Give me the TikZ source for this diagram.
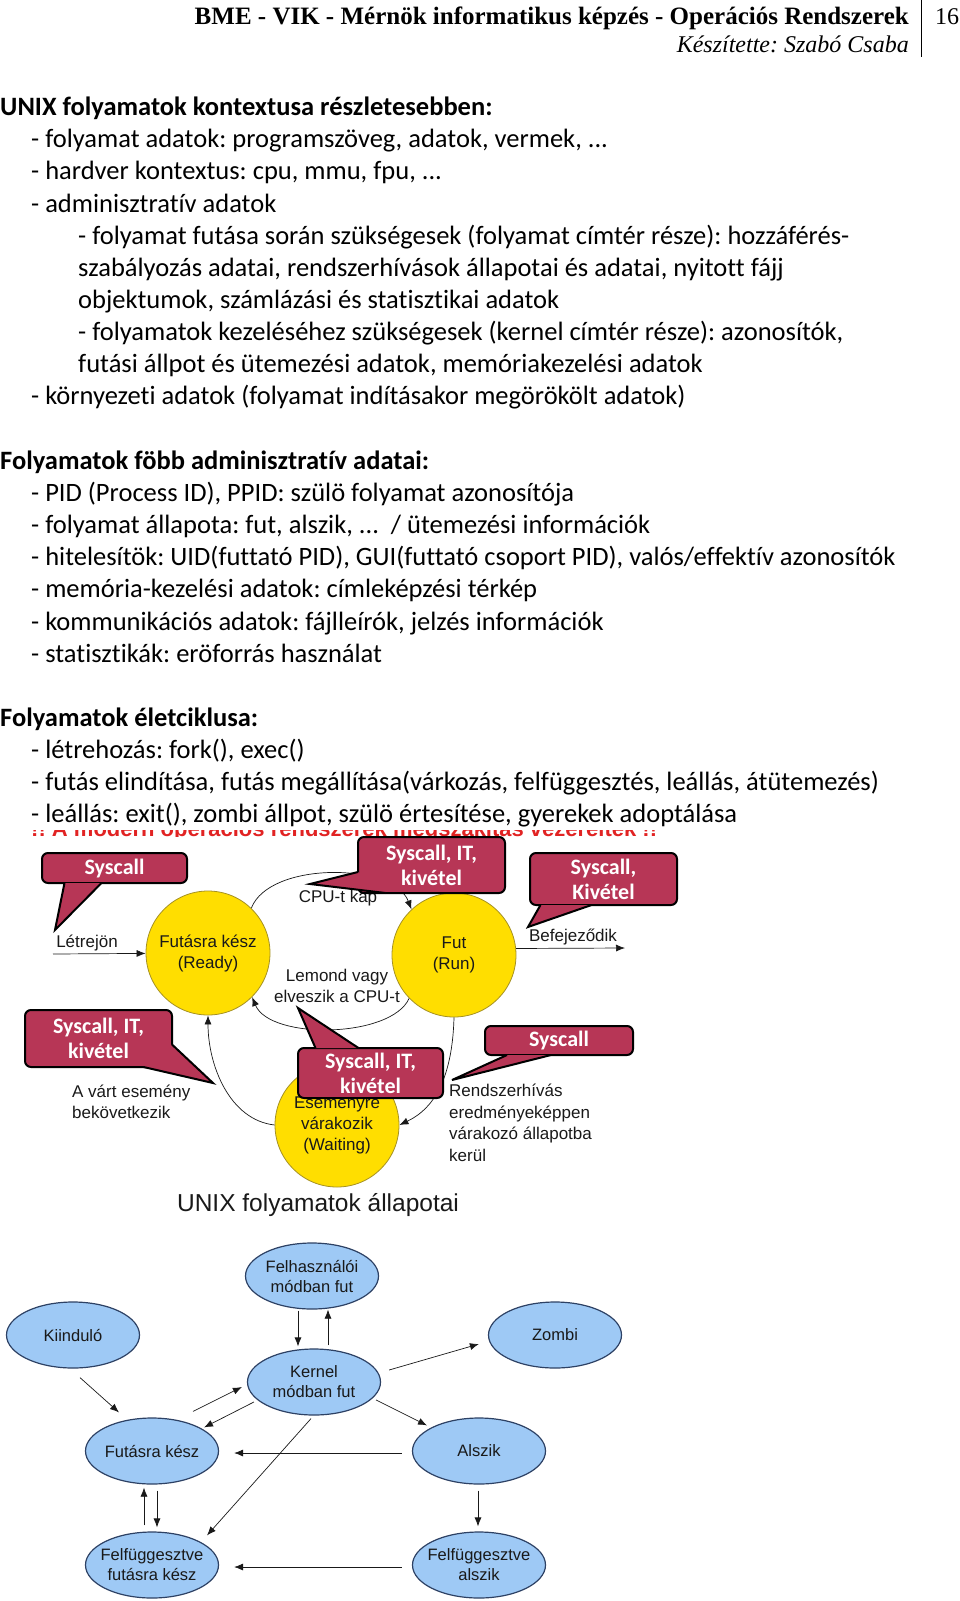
\documentclass[tikz,border=0pt]{standalone}
\usepackage{fontspec}
\usepackage{tikz}
\usetikzlibrary{arrows.meta,shapes.geometric,positioning}
\setmainfont[Ligatures={NoCommon}]{Carlito}
\newfontfamily\uxsans{Liberation Sans}
\newfontfamily\uxserif{Liberation Serif}
\frenchspacing
\definecolor{uxyellow}{RGB}{255,222,0}
\definecolor{uxolive}{RGB}{165,145,35}
\definecolor{uxmaroon}{RGB}{183,54,86}
\definecolor{uxblue}{RGB}{158,201,245}
\definecolor{uxnavy}{RGB}{45,65,100}
\definecolor{uxred}{RGB}{225,35,35}
\definecolor{uxink}{RGB}{25,25,25}
\tikzset{
  uxtxt/.style={anchor=base west, inner sep=0pt, font=\fontsize{26.5}{32}\selectfont},
  uxhd/.style={uxtxt, font=\fontsize{26.5}{32}\selectfont\bfseries},
  uxpage/.style={inner sep=0pt, font=\uxserif\fontsize{24}{28}\selectfont},
  uxcirc/.style={circle, draw=uxolive, line width=0.8pt, fill=uxyellow, minimum size=124pt, inner sep=0pt, align=center, text=uxink, font=\uxsans\fontsize{17}{21}\selectfont},
  uxlbl/.style={inner sep=0pt, align=center, text=uxink, font=\uxsans\fontsize{17}{21.5}\selectfont},
  uxbub/.style={draw=black, line width=2pt, fill=uxmaroon, rounded corners=6pt, text=white, align=center, inner sep=0pt, font=\fontsize{22}{25}\selectfont\bfseries},
  uxtail/.style={draw=black, line width=2pt, fill=uxmaroon, line join=miter},
  uxell/.style={ellipse, draw=uxnavy, line width=1.2pt, fill=uxblue, minimum width=133pt, minimum height=66pt, inner xsep=-8pt, inner ysep=0pt, align=center, text=uxink, font=\uxsans\fontsize{16.5}{20}\selectfont},
  uxarr/.style={-{Latex[length=9pt, width=7pt]}, line width=0.7pt, draw=uxink}
}
\begin{document}
\begin{tikzpicture}[x=1pt, y=-1pt]
  \useasboundingbox (0,0) rectangle (960,1601);
  \node[uxpage, anchor=base east, font=\uxserif\fontsize{25}{28}\selectfont\bfseries] (title) at (909,24) {BME - VIK - Mérnök informatikus képzés - Operációs Rendszerek};
  \node[uxpage, anchor=base east, font=\uxserif\fontsize{24}{28}\selectfont\itshape] (author) at (909,52) {Készítette: Szabó Csaba};
  \node[uxpage, anchor=base west] (pageno) at (935,24) {16};
  \draw[line width=0.8pt] (921,0) -- (921,57);

  \node[uxhd] (ctxhd) at (0,115) {UNIX folyamatok kontextusa részletesebben:};
  \node[uxtxt] (ctx1) at (31,147) {- folyamat adatok: programszöveg, adatok, vermek, ...};
  \node[uxtxt] (ctx2) at (31,179) {- hardver kontextus: cpu, mmu, fpu, ...};
  \node[uxtxt] (ctx3) at (31,212) {- adminisztratív adatok};
  \node[uxtxt] (ctx4) at (78,244) {- folyamat futása során szükségesek (folyamat címtér része): hozzáférés-};
  \node[uxtxt] (ctx5) at (78,276) {szabályozás adatai, rendszerhívások állapotai és adatai, nyitott fájj};
  \node[uxtxt] (ctx6) at (78,308) {objektumok, számlázási és statisztikai adatok};
  \node[uxtxt] (ctx7) at (78,340) {- folyamatok kezeléséhez szükségesek (kernel címtér része): azonosítók,};
  \node[uxtxt] (ctx8) at (78,372) {futási állpot és ütemezési adatok, memóriakezelési adatok};
  \node[uxtxt] (ctx9) at (31,404) {- környezeti adatok (folyamat indításakor megörökölt adatok)};

  \node[uxhd] (admhd) at (0,469) {Folyamatok föbb adminisztratív adatai:};
  \node[uxtxt] (adm1) at (31,501) {- PID (Process ID), PPID: szülö folyamat azonosítója};
  \node[uxtxt] (adm2) at (31,533) {- folyamat állapota: fut, alszik, ...\ \ / ütemezési információk};
  \node[uxtxt] (adm3) at (31,565) {- hitelesítök: UID(futtató PID), GUI(futtató csoport PID), valós/effektív azonosítók};
  \node[uxtxt] (adm4) at (31,597) {- memória-kezelési adatok: címleképzési térkép};
  \node[uxtxt] (adm5) at (31,630) {- kommunikációs adatok: fájlleírók, jelzés információk};
  \node[uxtxt] (adm6) at (31,662) {- statisztikák: eröforrás használat};

  \node[uxhd] (lifehd) at (0,726) {Folyamatok életciklusa:};
  \node[uxtxt] (life1) at (31,758) {- létrehozás: fork(), exec()};
  \node[uxtxt] (life2) at (31,790) {- futás elindítása, futás megállítása(várkozás, felfüggesztés, leállás, átütemezés)};
  \node[uxtxt] (life3) at (31,822) {- leállás: exit(), zombi állpot, szülö értesítése, gyerekek adoptálása};

  \begin{scope}
    \clip (0,830) rectangle (700,836);
    \node[uxtxt, text=uxred, font=\uxsans\fontsize{22}{25}\selectfont\bfseries] (slidetitle) at (31,836) {!! A modern operációs rendszerek megszakítás vezéreltek !!};
  \end{scope}

  \node[uxcirc] (ready) at (208,953) {Futásra kész\\(Ready)};
  \node[uxcirc] (run) at (454,955) {Fut\\(Run)};
  \node[uxcirc] (wait) at (337,1125) {Eseményre\\várakozik\\(Waiting)};
  \node[uxlbl] (born) at (87,943) {Létrejön};
  \coordinate (bornfrom) at (53,954);
  \node[uxlbl] (ends) at (573,937) {Befejeződik};
  \coordinate (endsto) at (625,948);
  \node[uxlbl] (getcpu) at (338,898) {CPU-t kap};
  \node[uxlbl] (losecpu) at (337,986) {Lemond vagy\\elveszik a CPU-t};
  \node[uxlbl, anchor=west, align=left] (evtdone) at (72,1102) {A várt esemény\\bekövetkezik};
  \node[uxlbl, anchor=west, align=left] (syswait) at (449,1123) {Rendszerhívás\\eredményeképpen\\várakozó állapotba\\kerül};
  \draw[uxarr] (bornfrom) -- (ready);
  \draw[uxarr] (run.6) -- (endsto);
  \draw[uxarr] (ready.46) .. controls +(18,-47) and +(-18,-47) .. (run.133);
  \draw[uxarr] (run.224) .. controls +(-18,40) and +(18,43) .. (ready.315);
  \draw[uxarr] (wait.west) .. controls +(-45,-5) and +(0,50) .. (ready.south);
  \draw[uxarr] (run.south) .. controls +(-2,75) and +(25,-12) .. (wait.east);

  \node[uxbub, minimum width=145pt, minimum height=30pt] (bubA) at (114.5,868) {Syscall};
  \filldraw[uxtail] ([shift={(-50,-1)}]bubA.south) -- (55,930) -- ([shift={(-13,-1)}]bubA.south);
  \node[uxbub, minimum width=147pt, minimum height=56pt] (bubB) at (431.5,865) {Syscall, IT,\\kivétel};
  \filldraw[uxtail] ([shift={(1,7)}]bubB.west) -- (310,884) -- ([shift={(-46,-1)}]bubB.south);
  \node[uxbub, minimum width=147pt, minimum height=52pt] (bubC) at (603.5,879) {Syscall,\\Kivétel};
  \filldraw[uxtail] ([shift={(-63,-1)}]bubC.south) -- (528,927) -- ([shift={(-12,-1)}]bubC.south);
  \node[uxbub, minimum width=147pt, minimum height=57pt] (bubD) at (98.5,1038.5) {Syscall, IT,\\kivétel};
  \filldraw[uxtail] ([shift={(-1,6)}]bubD.east) -- (213,1083) -- ([shift={(45,-1)}]bubD.south);
  \node[uxbub, minimum width=145pt, minimum height=50pt] (bubE) at (370.5,1073) {Syscall, IT,\\kivétel};
  \filldraw[uxtail] ([shift={(-55,1)}]bubE.north) -- (298,1008) -- ([shift={(-12,1)}]bubE.north);
  \node[uxbub, minimum width=148pt, minimum height=29pt] (bubF) at (559,1040.5) {Syscall};
  \filldraw[uxtail] ([shift={(-52,-1)}]bubF.south) -- (452,1080) -- ([shift={(-8,-1)}]bubF.south);

  \node[uxlbl, font=\uxsans\fontsize{24.5}{29}\selectfont] (caption) at (318,1205) {UNIX folyamatok állapotai};

  \node[uxell] (user) at (312,1276) {Felhasználói\\módban fut};
  \node[uxell] (kiind) at (73,1335) {Kiinduló};
  \node[uxell] (zombi) at (555,1335) {Zombi};
  \node[uxell] (kernel) at (314,1382) {Kernel\\módban fut};
  \node[uxell] (kesz) at (152,1451) {Futásra kész};
  \node[uxell] (alszik) at (479,1451) {Alszik};
  \node[uxell] (fkesz) at (152,1565) {Felfüggesztve\\futásra kész};
  \node[uxell] (falszik) at (479,1565) {Felfüggesztve\\alszik};
  \draw[uxarr] ([shift={(-14,1)}]user.south) -- ([shift={(-16,-2)}]kernel.north);
  \draw[uxarr] ([shift={(14,-3)}]kernel.north) -- ([shift={(16,0)}]user.south);
  \draw[uxarr] ([shift={(7,9)}]kiind.south) -- ([shift={(-33,-5)}]kesz.north);
  \draw[uxarr] ([shift={(41,-6)}]kesz.north) -- ([shift={(-5,5)}]kernel.west);
  \draw[uxarr] ([shift={(7,20)}]kernel.west) -- ([shift={(52,10)}]kesz.north);
  \draw[uxarr] ([shift={(8,-12)}]kernel.east) -- ([shift={(-9,9)}]zombi.west);
  \draw[uxarr] ([shift={(-5,18)}]kernel.east) -- ([shift={(-52,8)}]alszik.north);
  \draw[uxarr] ([shift={(-10,2)}]alszik.west) -- ([shift={(15,2)}]kesz.east);
  \draw[uxarr] ([shift={(-8,-6)}]fkesz.north) -- ([shift={(-8,3)}]kesz.south);
  \draw[uxarr] ([shift={(5,6)}]kesz.south) -- ([shift={(5,-4)}]fkesz.north);
  \draw[uxarr] ([shift={(-3,3)}]kernel.south) -- ([shift={(55,4)}]fkesz.north);
  \draw[uxarr] ([shift={(-1,6)}]alszik.south) -- ([shift={(-1,-5)}]falszik.north);
  \draw[uxarr] ([shift={(-10,2)}]falszik.west) -- ([shift={(15,2)}]fkesz.east);
\end{tikzpicture}
\end{document}
